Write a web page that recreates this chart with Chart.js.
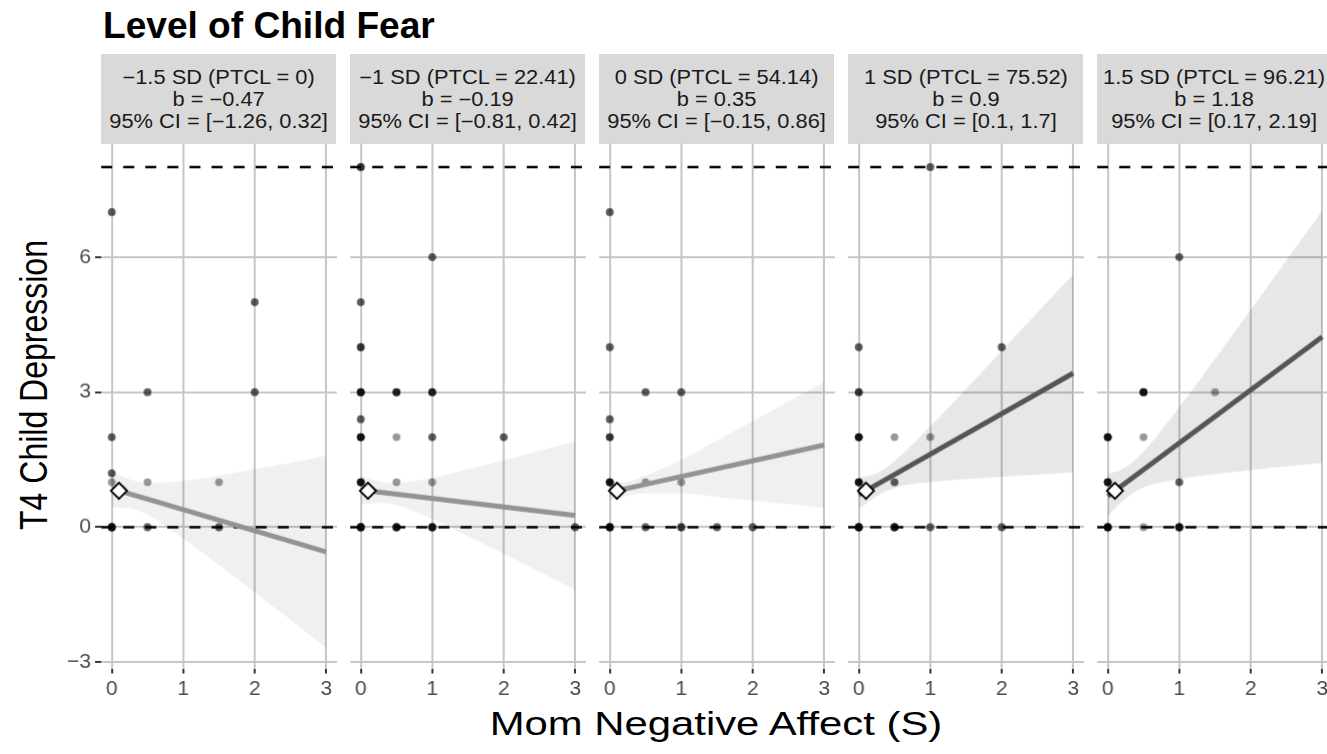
<!DOCTYPE html>
<html>
<head>
<meta charset="utf-8">
<script src="https://cdn.jsdelivr.net/npm/chart.js@4.4.1/dist/chart.umd.min.js"></script>
<style>
  html, body { margin: 0; padding: 0; background: #fff; overflow: hidden; }
  body { width: 1327px; height: 754px; position: relative; font-family: "Liberation Sans", Arial, sans-serif; color: #000; }
  .panel { position: absolute; left: 0; top: 0; width: 300px; height: 600px; }
  .strip { position: absolute; top: 54px; height: 90px; width: 235px; background: #d9d9d9;
           display: flex; align-items: center; justify-content: center; }
  .strip span { display: inline-block; font-size: 19.5px; line-height: 22px; color: #1a1a1a;
                text-align: center; white-space: nowrap; transform: scaleX(1.12); }
  #title { position: absolute; left: 103px; top: 8px; font-size: 36px; line-height: 36px; font-weight: bold;
           transform-origin: left center; transform: scaleX(1.03); white-space: nowrap; }
  #ytitle { position: absolute; left: 34px; top: 385px; font-size: 32px; line-height: 32px; white-space: nowrap;
            transform: translate(-50%, -50%) rotate(-90deg) scaleY(1.2); }
  #xtitle { position: absolute; left: 716px; top: 706px; font-size: 34px; line-height: 34px; white-space: nowrap;
            transform: translateX(-50%) scaleX(1.23); }
</style>
</head>
<body>
<div id="title">Level of Child Fear</div>
<div id="ytitle">T4 Child Depression</div>
<div id="xtitle">Mom Negative Affect (S)</div>

<script>
// axis settings
const xTicks = [0, 1, 2, 3];
const yTicks = [-3, 0, 3, 6];
const X_MIN = -0.15, X_MAX = 3.15;
const Y_MIN = -3.14, Y_MAX = 8.52;
const refLines = [0, 8];

// facet labels
const sdLevels = ['−1.5 SD', '−1 SD', '0 SD', '1 SD', '1.5 SD'];
const ptcl = [0, 22.41, 54.14, 75.52, 96.21];
const slopes = [-0.47, -0.19, 0.35, 0.9, 1.18];
const ciLow = [-1.26, -0.81, -0.15, 0.1, 0.17];
const ciHigh = [0.32, 0.42, 0.86, 1.7, 2.19];

// observed points (n = how many sit on the same spot)
const ptsX = [
  [0, 2, 0.5, 2, 0, 0, 0, 0.5, 1.5, 0, 0.5, 1.5],
  [0, 1, 0, 0, 0, 0.5, 1, 0, 0, 0.5, 1, 2, 0, 0.5, 1, 0, 0.5, 1, 3],
  [0, 0, 0.5, 1, 0, 0, 0, 0.5, 1, 0, 0.5, 1, 1.5, 2],
  [1, 0, 2, 0, 0, 0.5, 1, 0, 0.5, 0, 0.5, 1, 2],
  [1, 0.5, 1.5, 0, 0.5, 0, 1, 0, 0.5, 1]
];
const ptsY = [
  [7, 5, 3, 3, 2, 1.2, 1, 1, 1, 0, 0, 0],
  [8, 6, 5, 4, 3, 3, 3, 2.4, 2, 2, 2, 2, 1, 1, 1, 0, 0, 0, 0],
  [7, 4, 3, 3, 2.4, 2, 1, 1, 1, 0, 0, 0, 0, 0],
  [8, 4, 4, 3, 2, 2, 2, 1, 1, 0, 0, 0, 0],
  [6, 3, 3, 2, 2, 1, 1, 0, 0, 0]
];
const ptsN = [
  [2, 2, 2, 2, 2, 2, 1, 1, 1, 6, 2, 2],
  [3, 2, 2, 3, 5, 4, 4, 2, 5, 1, 2, 2, 5, 1, 1, 6, 5, 5, 2],
  [2, 2, 2, 2, 2, 3, 5, 1, 1, 6, 2, 3, 2, 2],
  [2, 2, 2, 3, 5, 1, 1, 5, 2, 6, 5, 2, 2],
  [2, 5, 1, 5, 1, 5, 2, 6, 1, 5]
];

// fitted line ends and confidence band
const fitX = [0, 3];
const fitY = [[0.86, -0.55], [0.83, 0.26], [0.775, 1.825], [0.72, 3.42], [0.69, 4.23]];
const bandX = [0, 0.25, 0.5, 1, 1.5, 2, 2.5, 3];
const bandLo = [
  [0.44, 0.42, 0.27, -0.25, -0.84, -1.45, -2.06, -2.68],
  [0.51, 0.54, 0.49, 0.18, -0.20, -0.59, -0.99, -1.39],
  [0.60, 0.70, 0.75, 0.75, 0.67, 0.59, 0.51, 0.43],
  [0.40, 0.69, 0.87, 1.00, 1.07, 1.12, 1.17, 1.22],
  [0.25, 0.64, 0.88, 1.07, 1.18, 1.27, 1.35, 1.43]
];
const bandHi = [
  [1.23, 1.07, 0.98, 1.03, 1.15, 1.29, 1.43, 1.59],
  [1.15, 1.02, 0.98, 1.10, 1.29, 1.49, 1.70, 1.91],
  [1.00, 1.02, 1.15, 1.50, 1.93, 2.36, 2.79, 3.23],
  [1.10, 1.20, 1.47, 2.24, 3.07, 3.92, 4.77, 5.62],
  [1.18, 1.33, 1.68, 2.67, 3.74, 4.83, 5.93, 7.03]
];
// mean marker
const markX = 0.1, markY = 0.81;

const fmt = v => String(v).replace('-', '−');
const FONT = '"Liberation Sans", Arial, sans-serif';

const panelLeft = [101, 350, 599, 848, 1097];
const PANEL_TOP = 144, PANEL_W = 235, PANEL_H = 524;

function placePanel(chart, box, left) {
  let a = chart.chartArea;
  box.style.width = (box.offsetWidth + PANEL_W - (a.right - a.left)) + 'px';
  box.style.height = (box.offsetHeight + PANEL_H - (a.bottom - a.top)) + 'px';
  chart.resize();
  a = chart.chartArea;
  box.style.left = (left - a.left) + 'px';
  box.style.top = (PANEL_TOP - a.top) + 'px';
}

for (let p = 0; p < 5; p++) {
  // strip label
  const strip = document.createElement('div');
  strip.className = 'strip';
  strip.style.left = panelLeft[p] + 'px';
  strip.innerHTML = '<span>' + sdLevels[p] + ' (PTCL = ' + ptcl[p] + ')<br>b = ' + fmt(slopes[p]) +
    '<br>95% CI = [' + fmt(ciLow[p]) + ', ' + fmt(ciHigh[p]) + ']</span>';
  document.body.appendChild(strip);

  const box = document.createElement('div');
  box.className = 'panel';
  const cv = document.createElement('canvas');
  box.appendChild(cv);
  document.body.appendChild(box);

  const sig = ciLow[p] > 0;
  const pts = [];
  ptsX[p].forEach((x, i) => {
    for (let k = 0; k < ptsN[p][i]; k++) pts.push({ x: x, y: ptsY[p][i] });
  });

  const datasets = [
    {
      type: 'scatter', order: 0,
      data: [{ x: markX, y: markY }],
      pointStyle: 'rectRot', pointRadius: 8, backgroundColor: '#fff', borderColor: '#000', borderWidth: 2
    },
    {
      type: 'line', order: 1,
      data: fitX.map((x, i) => ({ x: x, y: fitY[p][i] })),
      borderColor: sig ? '#555555' : '#939393', borderWidth: 5, pointRadius: 0, borderCapStyle: 'butt'
    },
    {
      type: 'line', order: 2,
      data: bandX.map((x, i) => ({ x: x, y: bandHi[p][i] })),
      borderWidth: 0, pointRadius: 0, fill: '+1', cubicInterpolationMode: 'monotone',
      backgroundColor: sig ? 'rgba(0,0,0,0.095)' : 'rgba(0,0,0,0.06)'
    },
    {
      type: 'line', order: 2,
      data: bandX.map((x, i) => ({ x: x, y: bandLo[p][i] })),
      borderWidth: 0, pointRadius: 0, fill: false, cubicInterpolationMode: 'monotone'
    },
    {
      type: 'scatter', order: 3,
      data: pts,
      pointRadius: 3.9, borderWidth: 0, backgroundColor: 'rgba(0,0,0,0.4)'
    }
  ];
  refLines.forEach(v => {
    datasets.push({
      type: 'line', order: 4,
      data: [{ x: X_MIN, y: v }, { x: X_MAX, y: v }],
      borderColor: '#000', borderWidth: 2.5, borderDash: [11, 11], pointRadius: 0
    });
  });

  const chart = new Chart(cv.getContext('2d'), {
    type: 'scatter',
    data: { datasets: datasets },
    options: {
      animation: false,
      responsive: true,
      maintainAspectRatio: false,
      events: [],
      layout: { padding: { left: 0, right: 8, top: 0, bottom: 0 } },
      plugins: { legend: { display: false }, tooltip: { enabled: false } },
      scales: {
        x: {
          type: 'linear', min: X_MIN, max: X_MAX,
          afterBuildTicks: s => { s.ticks = xTicks.map(v => ({ value: v })); },
          border: { display: false },
          grid: { color: '#c6c6c6', lineWidth: 2, tickColor: '#333', tickLength: 5 },
          ticks: { font: { family: FONT, size: 21 }, color: '#4d4d4d', padding: 3, maxRotation: 0 }
        },
        y: {
          type: 'linear', min: Y_MIN, max: Y_MAX,
          afterBuildTicks: s => { s.ticks = yTicks.map(v => ({ value: v })); },
          border: { display: false },
          grid: { color: '#c6c6c6', lineWidth: 2, tickColor: p === 0 ? '#333' : 'rgba(0,0,0,0)', tickLength: 6 },
          ticks: {
            font: { family: FONT, size: 21 }, color: p === 0 ? '#4d4d4d' : 'rgba(0,0,0,0)', padding: 4,
            callback: v => fmt(v)
          }
        }
      }
    }
  });
  placePanel(chart, box, panelLeft[p]);
}
</script>
</body>
</html>
